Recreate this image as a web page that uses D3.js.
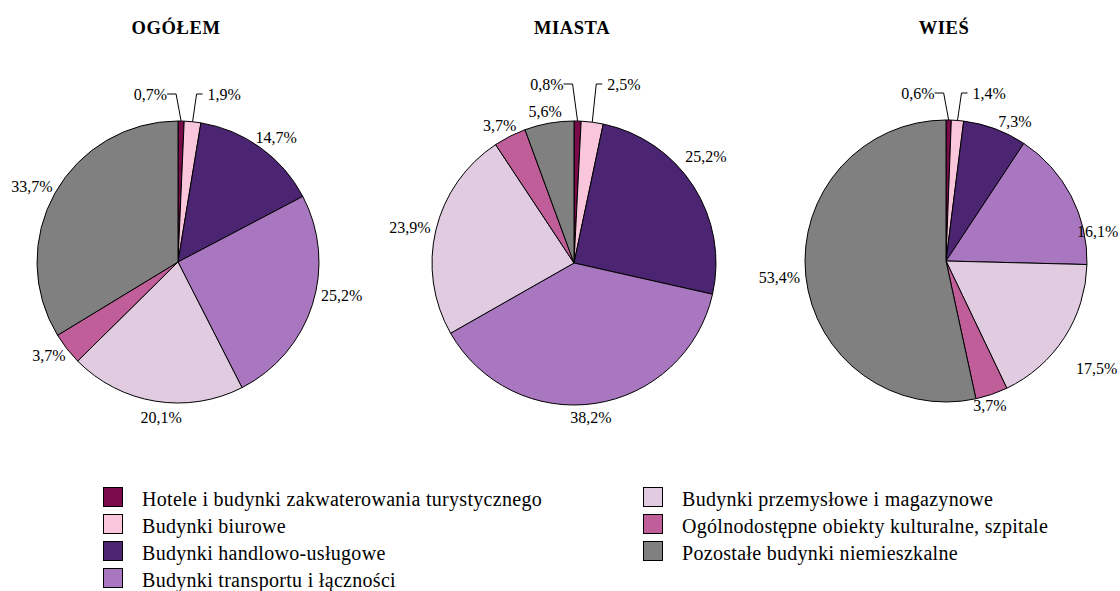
<!DOCTYPE html>
<html lang="pl">
<head>
<meta charset="utf-8">
<title>Budynki niemieszkalne oddane do użytkowania</title>
<script src="https://cdn.jsdelivr.net/npm/d3@7"></script>
<style>
  html, body { margin: 0; padding: 0; background: #fff; }
  svg, svg text { font-family: "Liberation Serif", "Times New Roman", "DejaVu Serif", serif; }
  svg { display: block; }
</style>
</head>
<body>
<svg id="chart" width="1120" height="591"></svg>
<script>
// Building categories (slice order, clockwise from 12 o'clock)
const categories = [
  "Hotele i budynki zakwaterowania turystycznego",
  "Budynki biurowe",
  "Budynki handlowo-usługowe",
  "Budynki transportu i łączności",
  "Budynki przemysłowe i magazynowe",
  "Ogólnodostępne obiekty kulturalne, szpitale",
  "Pozostałe budynki niemieszkalne"
];

const regions = ["OGÓŁEM", "MIASTA", "WIEŚ"];

// Shares in percent
const ogolem = [0.7, 1.9, 14.7, 25.2, 20.1, 3.7, 33.7];
const miasta = [0.8, 2.5, 25.2, 38.2, 23.9, 3.7, 5.6];
const wies   = [0.6, 1.4, 7.3, 16.1, 17.5, 3.7, 53.4];

const series = [ogolem, miasta, wies];

// Slice fills
const palette = ["#7b0a4b", "#fac6dc", "#4b2571", "#a976c0", "#e0cbe1", "#c05e99", "#808080"];

// Layout
const pieLayout = [
  { cx: 178, cy: 262, r: 141, rise: 27 },
  { cx: 574, cy: 263, r: 142, rise: 37 },
  { cx: 946, cy: 261, r: 141, rise: 27 }
];
// Hand-placed label shifts (px) for labels moved away from their default spot
const labelShift = [
  { 3: [4, -13], 4: [10, 5] },
  { 2: [-10, -23], 3: [-8, 2] },
  { 2: [12, 4], 3: [3, 41], 4: [10, 25], 5: [-9, 0] }
];

const svg = d3.select("#chart");
const fmt = v => v.toFixed(1).replace(".", ",") + "%";

const pie = d3.pie().sort(null).value(d => d);
const arc = d3.arc().innerRadius(0);

series.forEach((values, ci) => {
  const L = pieLayout[ci];
  const g = svg.append("g").attr("transform", `translate(${L.cx},${L.cy})`);

  // title
  svg.append("text")
    .attr("x", L.cx - 2)
    .attr("y", 34)
    .attr("text-anchor", "middle")
    .attr("font-size", 18.5)
    .attr("font-weight", "bold")
    .attr("letter-spacing", 0.6)
    .text(regions[ci]);

  const arcs = pie(values);

  g.selectAll("path.slice")
    .data(arcs)
    .join("path")
    .attr("class", "slice")
    .attr("d", d => arc.outerRadius(L.r)(d))
    .attr("fill", (d, i) => palette[i])
    .attr("stroke", "#000")
    .attr("stroke-width", 1)
    .attr("stroke-linejoin", "round");

  arcs.forEach((d, i) => {
    const a = (d.startAngle + d.endAngle) / 2;
    const s = Math.sin(a), c = Math.cos(a);
    const txt = g.append("text")
      .attr("font-size", 16)
      .attr("dy", "0.33em")
      .text(fmt(d.data));

    if (i < 2) {
      // small top slices: label with elbow leader line
      const ex = L.r * s, ey = -L.r * c;
      const ly = -L.r - L.rise;
      let pts, tx, anchor;
      if (i === 0) {
        const bx = ex - 5;
        pts = [[ex, ey], [bx, ly], [bx - 9, ly]];
        tx = bx - 9; anchor = "end";
      } else {
        const bx = ex + 4;
        pts = [[ex, ey], [bx, ly], [bx + 6, ly]];
        tx = bx + 11; anchor = "start";
      }
      g.append("path")
        .attr("d", d3.line()(pts))
        .attr("fill", "none")
        .attr("stroke", "#000")
        .attr("stroke-width", 1);
      txt.attr("x", tx).attr("y", ly + 1).attr("text-anchor", anchor);
    } else {
      const w = txt.node().getComputedTextLength();
      const R = L.r + 6;
      const sh = labelShift[ci][i] || [0, 0];
      const x = R * s + (w / 2) * s + sh[0];
      const y = -R * c - 6 * c + sh[1];
      txt.attr("x", x).attr("y", y).attr("text-anchor", "middle");
    }
  });
});

// Legend: two columns
const legendCols = [
  { x: 103, items: [0, 1, 2, 3] },
  { x: 643, items: [4, 5, 6] }
];
const legendTop = 487, rowStep = 27, box = 20;

legendCols.forEach(col => {
  const rows = svg.append("g").selectAll("g")
    .data(col.items)
    .join("g")
    .attr("transform", (d, k) => `translate(${col.x},${legendTop + k * rowStep})`);
  rows.append("rect")
    .attr("x", 0.5).attr("y", 0.5)
    .attr("width", box - 1).attr("height", box - 1)
    .attr("fill", d => palette[d])
    .attr("stroke", "#000")
    .attr("stroke-width", 1);
  rows.append("text")
    .attr("x", box + 19)
    .attr("y", box - 1)
    .attr("font-size", 20)
    .attr("letter-spacing", 0.3)
    .text(d => categories[d]);
});
</script>
</body>
</html>
